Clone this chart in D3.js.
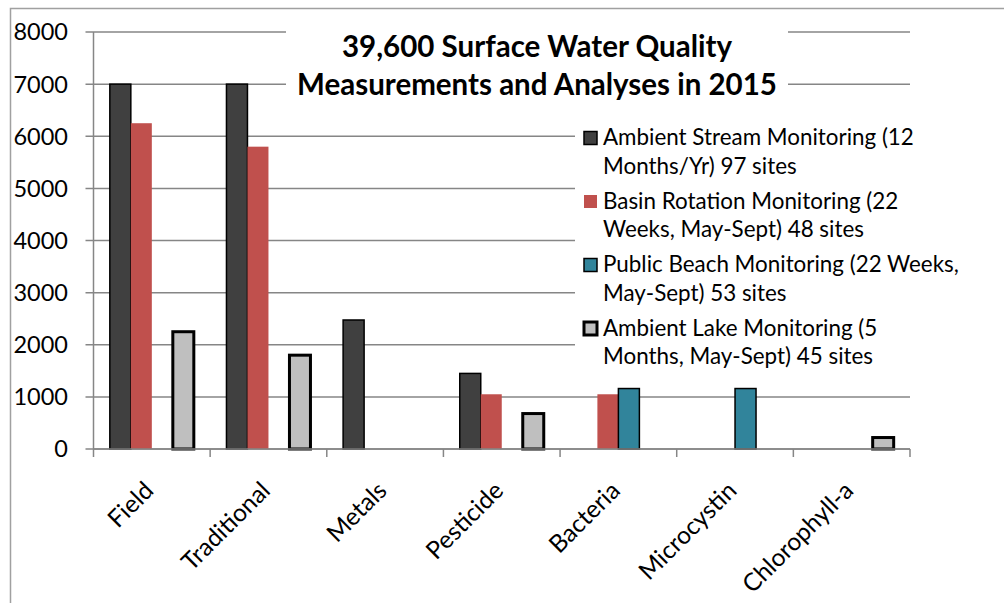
<!DOCTYPE html>
<html>
<head>
<meta charset="utf-8">
<script src="https://cdn.jsdelivr.net/npm/d3@7"></script>
<style>
    body { margin: 0; background: #fff; }
    svg { display: block; }
    text { font-family: Lato, "Open Sans", sans-serif; fill: #000; }
</style>
</head>
<body>
<svg id="chart" width="1004" height="603"></svg>
<script>
// Data
const categories = ['Field', 'Traditional', 'Metals', 'Pesticide', 'Bacteria', 'Microcystin', 'Chlorophyll-a'];
const seriesKeys = ['stream', 'basin', 'beach', 'lake'];
const seriesLabels = [
    ['Ambient Stream Monitoring (12', 'Months/Yr) 97 sites'],
    ['Basin Rotation Monitoring (22', 'Weeks, May-Sept) 48 sites'],
    ['Public Beach Monitoring (22 Weeks,', 'May-Sept) 53 sites'],
    ['Ambient Lake Monitoring (5', 'Months, May-Sept) 45 sites']
];
const ambientStream = [7000, 7000, 2475, 1450, null, null, null];
const basinRotation = [6250, 5800, null, 1050, 1050, null, null];
const publicBeach = [null, null, null, null, 1160, 1160, null];
const ambientLake = [2250, 1800, null, 680, null, null, 220];
const yTicks = [0, 1000, 2000, 3000, 4000, 5000, 6000, 7000, 8000];
const titleLines = ['39,600 Surface Water Quality', 'Measurements and Analyses in 2015'];

const seriesValues = [ambientStream, basinRotation, publicBeach, ambientLake];
const seriesStyle = [
    { fill: '#404040', stroke: '#000', width: 1.5 },
    { fill: '#c0504d', stroke: 'none', width: 0 },
    { fill: '#31849b', stroke: '#000', width: 1.5 },
    { fill: '#bfbfbf', stroke: '#000', width: 3 }
];

const svg = d3.select('#chart');
const plot = { left: 93.5, right: 910, top: 32, bottom: 449 };

// Outer chart frame
svg.append('rect')
    .attr('x', 10.5).attr('y', 8.5)
    .attr('width', 1010).attr('height', 620)
    .attr('fill', 'none')
    .attr('stroke', '#a0a0a0')
    .attr('stroke-width', 1.5);

const x = d3.scaleBand()
    .domain(categories)
    .range([plot.left, plot.right]);

const bw = 21;
const xs = d3.scaleBand()
    .domain(seriesKeys)
    .range([(x.bandwidth() - bw * 4) / 2, (x.bandwidth() + bw * 4) / 2]);

const y = d3.scaleLinear()
    .domain([0, 8000])
    .range([plot.bottom, plot.top]);

// Gridlines with tick stubs on the left
svg.append('g')
    .selectAll('line')
    .data(yTicks)
    .join('line')
    .attr('x1', plot.left - 8)
    .attr('x2', plot.right)
    .attr('y1', d => y(d))
    .attr('y2', d => y(d))
    .attr('stroke', '#868686')
    .attr('stroke-width', 1.5);

// Y axis line
svg.append('line')
    .attr('x1', plot.left).attr('x2', plot.left)
    .attr('y1', plot.top).attr('y2', plot.bottom)
    .attr('stroke', '#868686')
    .attr('stroke-width', 1.5);

// Bars
const barData = [];
categories.forEach((c, i) => {
    seriesKeys.forEach((k, j) => {
        const v = seriesValues[j][i];
        if (v != null) barData.push({ cat: c, key: k, idx: j, value: v });
    });
});

svg.append('g')
    .selectAll('rect')
    .data(barData)
    .join('rect')
    .attr('x', d => x(d.cat) + xs(d.key))
    .attr('y', d => y(d.value))
    .attr('width', xs.bandwidth())
    .attr('height', d => y(0) - y(d.value))
    .attr('fill', d => seriesStyle[d.idx].fill)
    .attr('stroke', d => seriesStyle[d.idx].stroke)
    .attr('stroke-width', d => seriesStyle[d.idx].width);

// X axis with ticks at category boundaries
const xBounds = categories.map(c => x(c)).concat([plot.right]);
svg.append('line')
    .attr('x1', plot.left).attr('x2', plot.right)
    .attr('y1', plot.bottom).attr('y2', plot.bottom)
    .attr('stroke', '#868686')
    .attr('stroke-width', 1.5);
svg.append('g')
    .selectAll('line')
    .data(xBounds)
    .join('line')
    .attr('x1', d => d).attr('x2', d => d)
    .attr('y1', plot.bottom).attr('y2', plot.bottom + 8)
    .attr('stroke', '#868686')
    .attr('stroke-width', 1.5);

// Y tick labels
svg.append('g')
    .selectAll('text')
    .data(yTicks)
    .join('text')
    .attr('x', 68)
    .attr('y', d => y(d))
    .attr('dy', '0.36em')
    .attr('text-anchor', 'end')
    .style('font-size', '23.5px')
    .text(d => d);

// X category labels, rotated
svg.append('g')
    .selectAll('text')
    .data(categories)
    .join('text')
    .attr('transform', d => `translate(${x(d) + x.bandwidth() / 2 - 9},${plot.bottom + 31}) rotate(-45)`)
    .attr('text-anchor', 'end')
    .attr('dy', '0.7em')
    .style('font-size', '24.5px')
    .text(d => d);

// Title (white box hides gridlines behind it)
svg.append('rect')
    .attr('x', 286).attr('y', 20)
    .attr('width', 502).attr('height', 88)
    .attr('fill', '#fff');
svg.append('g')
    .selectAll('text')
    .data(titleLines)
    .join('text')
    .attr('x', 537)
    .attr('y', (d, i) => 57 + i * 38)
    .attr('text-anchor', 'middle')
    .style('font-size', '29.5px')
    .style('font-weight', 'bold')
    .text(d => d);

// Legend
const legend = svg.append('g');
legend.append('rect')
    .attr('x', 575).attr('y', 122)
    .attr('width', 345).attr('height', 258)
    .attr('fill', '#fff');

const entry = legend.selectAll('g.entry')
    .data(seriesKeys)
    .join('g')
    .attr('class', 'entry')
    .attr('transform', (d, i) => `translate(0,${145 + i * 63.5})`);

entry.append('rect')
    .attr('x', 584).attr('y', -13.5)
    .attr('width', 13).attr('height', 13)
    .attr('fill', (d, i) => seriesStyle[i].fill)
    .attr('stroke', (d, i) => seriesStyle[i].stroke)
    .attr('stroke-width', (d, i) => seriesStyle[i].width);

entry.selectAll('text')
    .data((d, i) => seriesLabels[i])
    .join('text')
    .attr('x', 603)
    .attr('y', (d, i) => i * 28.5)
    .style('font-size', '22.4px')
    .text(d => d);
</script>
</body>
</html>
